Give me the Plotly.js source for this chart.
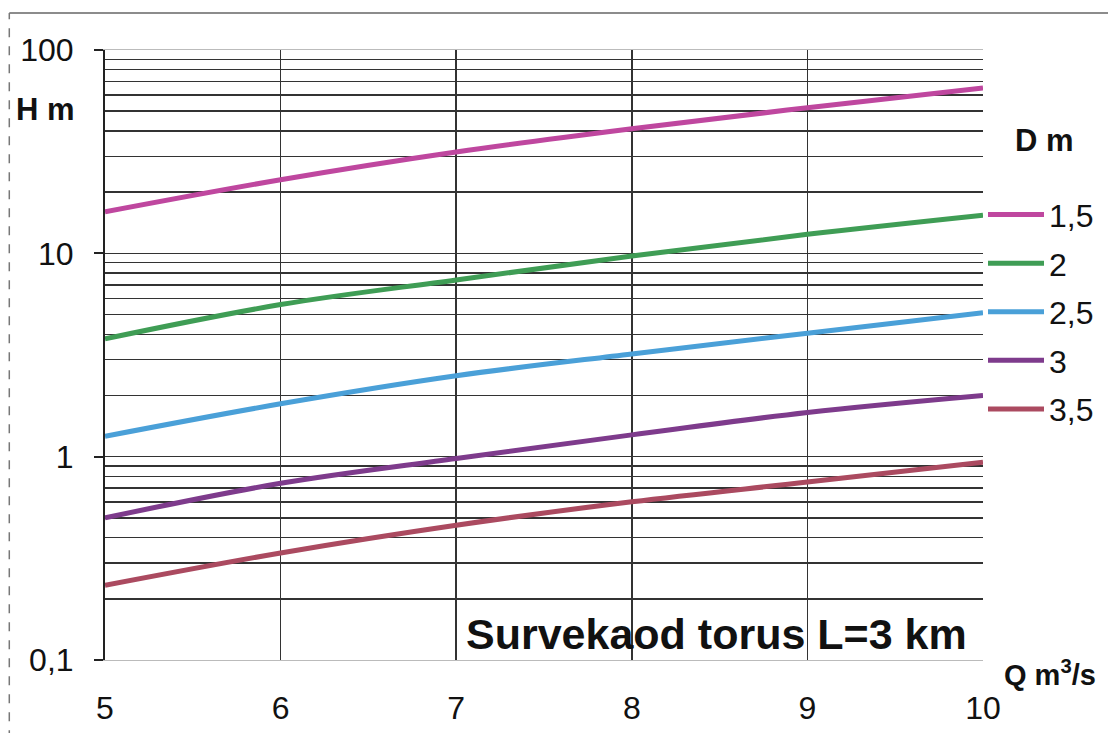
<!DOCTYPE html>
<html>
<head>
<meta charset="utf-8">
<script src="https://cdn.plot.ly/plotly-3.0.1.min.js"></script>
<style>html,body{margin:0;padding:0;background:#fff;}#chart{width:1108px;height:733px;}</style>
</head>
<body>
<div id="chart"></div>
<script>
// Data
const Q = [5, 6, 7, 8, 9, 10];
const diameters = ["1,5", "2", "2,5", "3", "3,5"];
const H_15 = [16, 23, 31.5, 41, 52, 65];
const H_20 = [3.8, 5.6, 7.4, 9.7, 12.4, 15.4];
const H_25 = [1.26, 1.82, 2.5, 3.2, 4.05, 5.1];
const H_30 = [0.5, 0.74, 0.98, 1.28, 1.65, 2.0];
const H_35 = [0.233, 0.336, 0.46, 0.6, 0.75, 0.94];
const series = [H_15, H_20, H_25, H_30, H_35];
const colors = ["#bf479f", "#3f9d55", "#4aa0d8", "#7e3b8c", "#ab4a60"];

const yMajorVals = [0.1, 1, 10, 100];
const yMajorText = ["0,1", "1", "10", "100"];
const yMinorVals = [];
[0.1, 1, 10].forEach(d => { for (let k = 2; k <= 9; k++) yMinorVals.push(+(d * k).toPrecision(3)); });
const xTickVals = [5, 6, 7, 8, 9, 10];

const FONT = "Liberation Sans, Arial, sans-serif";
const gridC = "#333333";

const traces = series.map((ys, i) => ({
  x: Q, y: ys, type: "scatter", mode: "lines",
  name: diameters[i], legendgroup: "g" + i,
  line: {color: colors[i], width: 5, shape: "spline"}
}));

const layout = {
  width: 1108, height: 733,
  margin: {l: 105, r: 125, t: 50, b: 73, autoexpand: false},
  paper_bgcolor: "#ffffff", plot_bgcolor: "#ffffff",
  font: {family: FONT, color: "#111", size: 32},
  showlegend: true,
  legend: {
    x: 1.0, xanchor: "left", y: 0.775, yanchor: "top",
    font: {family: FONT, size: 32, color: "#111"},
    bgcolor: "rgba(0,0,0,0)", borderwidth: 0,
    traceorder: "grouped", tracegroupgap: 4, itemwidth: 56
  },
  xaxis: {
    range: [5, 10], tickmode: "array", tickvals: xTickVals,
    ticktext: xTickVals.map(String),
    showgrid: true, gridcolor: gridC, gridwidth: 1.5,
    zeroline: false, showline: true, linecolor: "#bbbbbb", linewidth: 1, mirror: true,
    ticks: "", ticklabelstandoff: 20, automargin: false,
    tickfont: {family: FONT, size: 32, color: "#111"}
  },
  yaxis: {
    type: "log", range: [-1, 2], tickmode: "array",
    tickvals: yMajorVals, ticktext: yMajorText,
    showgrid: true, gridcolor: gridC, gridwidth: 1.5,
    minor: {tickmode: "array", tickvals: yMinorVals, showgrid: true, gridcolor: gridC, gridwidth: 1.5, ticks: ""},
    zeroline: false, showline: true, linecolor: "#222", linewidth: 2,
    ticks: "outside", ticklen: 9, tickwidth: 2, tickcolor: "#222",
    ticklabelstandoff: 14, automargin: false,
    tickfont: {family: FONT, size: 32, color: "#111"}
  },
  shapes: [
    {type: "line", xref: "paper", yref: "paper", x0: -0.109, x1: 1.15, y0: 1.0607, y1: 1.0607, line: {color: "#666", width: 1.5}},
    {type: "line", xref: "paper", yref: "paper", x0: -0.109, x1: -0.109, y0: -0.13, y1: 1.0607, line: {color: "#777", width: 1.5, dash: "dash"}}
  ],
  annotations: [
    {text: "<b>H m</b>", xref: "paper", yref: "paper", x: -0.068, y: 0.902, xanchor: "center", yanchor: "middle", showarrow: false, font: {family: FONT, size: 31, color: "#111"}},
    {text: "<b>D m</b>", xref: "paper", yref: "paper", x: 1.07, y: 0.852, xanchor: "center", yanchor: "middle", showarrow: false, font: {family: FONT, size: 31, color: "#111"}},
    {text: "<b>Q m<sup>3</sup>/s</b>", xref: "paper", yref: "paper", x: 1.022, y: -0.022, xanchor: "left", yanchor: "middle", showarrow: false, font: {family: FONT, size: 29, color: "#111"}},
    {text: "<b>Survekaod torus L=3 km</b>", xref: "paper", yref: "paper", x: 0.697, y: 0.042, xanchor: "center", yanchor: "middle", showarrow: false, font: {family: FONT, size: 43, color: "#111"}}
  ]
};

Plotly.newPlot("chart", traces, layout, {displayModeBar: false, staticPlot: true});
</script>
</body>
</html>
